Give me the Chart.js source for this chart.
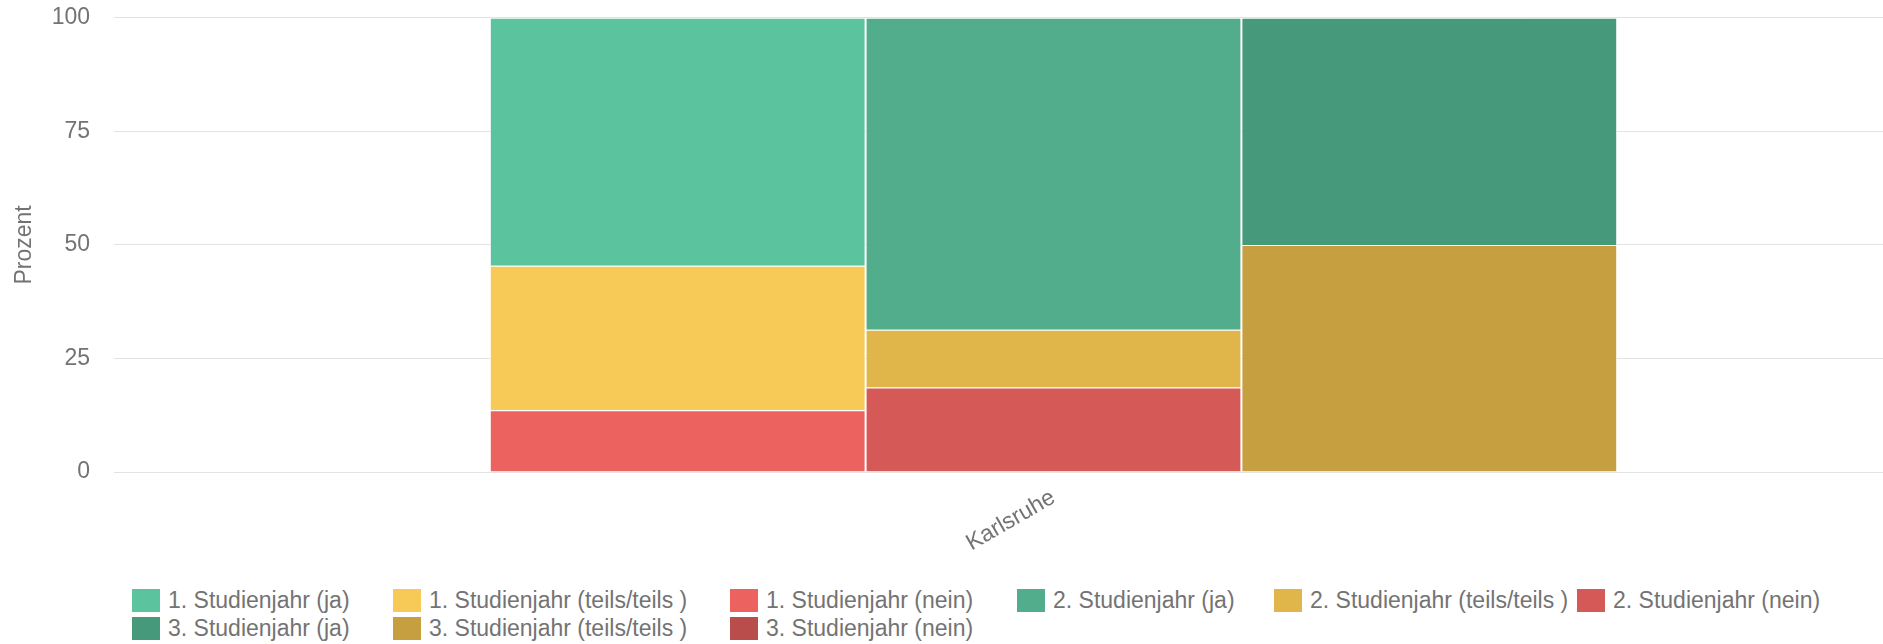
<!DOCTYPE html>
<html>
<head>
<meta charset="utf-8">
<script src="https://cdn.jsdelivr.net/npm/chart.js@4"></script>
<style>
html, body { margin: 0; padding: 0; background: #fff; overflow: hidden; width: 1883px; height: 644px; }
#wrap { position: absolute; left: 0; top: -20px; width: 2000px; height: 581px; }
#legend {
    position: absolute; left: 132px; top: 586px;
    display: grid;
    grid-template-columns: 261px 337px 287px 257px 303px 300px;
    grid-auto-rows: 28px;
    font: 23px "Liberation Sans", Arial, sans-serif;
    color: #737373;
}
.item { display: flex; align-items: center; white-space: nowrap; }
.box { width: 28px; height: 23px; margin-right: 8px; flex: none; }
</style>
</head>
<body>
<div id="wrap"><canvas id="chart" width="2000" height="581"></canvas></div>
<div id="legend"></div>
<script>
// Daten
var kategorien = ['Karlsruhe'];
var jahre = ['1. Studienjahr', '2. Studienjahr', '3. Studienjahr'];
var antworten = ['ja', 'teils/teils ', 'nein'];
var jaWerte = [54.6, 68.7, 50];
var teilsWerte = [31.8, 12.7, 50];
var neinWerte = [13.6, 18.6, 0];
var yTicks = [0, 25, 50, 75, 100];

// Farben je Jahr
var jaFarben = ['#5bc39e', '#52ad8c', '#46997b'];
var teilsFarben = ['#f7c956', '#e0b54a', '#c69f41'];
var neinFarben = ['#ec625f', '#d55957', '#b84d4b'];

var fontFamily = '"Liberation Sans", Arial, sans-serif';
var grau = '#737373';

var datasets = [];
var legendItems = [];
for (var i = 0; i < jahre.length; i++) {
    var werte = [jaWerte[i], teilsWerte[i], neinWerte[i]];
    var farben = [jaFarben[i], teilsFarben[i], neinFarben[i]];
    // nein unten, ja oben -> umgekehrt einfügen
    for (var k = antworten.length - 1; k >= 0; k--) {
        datasets.push({
            label: jahre[i] + ' (' + antworten[k] + ')',
            data: [werte[k]],
            backgroundColor: farben[k],
            borderColor: '#ffffff',
            borderWidth: 1,
            stack: 'jahr' + i
        });
    }
}
// Legende: Reihenfolge wie im Original
for (var i = 0; i < jahre.length; i++) {
    legendItems.push({ text: jahre[i] + ' (' + antworten[0] + ')', color: jaFarben[i] });
    legendItems.push({ text: jahre[i] + ' (' + antworten[1] + ')', color: teilsFarben[i] });
    legendItems.push({ text: jahre[i] + ' (' + antworten[2] + ')', color: neinFarben[i] });
}

var myChart = new Chart(document.getElementById('chart'), {
    type: 'bar',
    data: {
        labels: kategorien,
        datasets: datasets
    },
    options: {
        responsive: false,
        animation: false,
        layout: { padding: { left: 0, right: 7, top: 0, bottom: 0 } },
        datasets: { bar: { categoryPercentage: 0.6, barPercentage: 1 } },
        plugins: {
            legend: { display: false },
            tooltip: { enabled: false }
        },
        scales: {
            x: {
                stacked: true,
                grid: { display: false, drawTicks: false },
                border: { display: false },
                ticks: {
                    minRotation: 30, maxRotation: 30, padding: 12,
                    color: grau, font: { family: fontFamily, size: 23 }
                },
                afterFit: function(scale) { scale.height = 89; }
            },
            y: {
                stacked: true,
                min: yTicks[0], max: yTicks[yTicks.length - 1],
                afterBuildTicks: function(scale) {
                    scale.ticks = yTicks.map(function(v) { return { value: v }; });
                },
                ticks: { padding: 24, color: grau, font: { family: fontFamily, size: 23 } },
                grid: { color: '#e3e3e3', drawTicks: false },
                border: { display: false },
                title: {
                    display: true, text: 'Prozent', color: grau,
                    font: { family: fontFamily, size: 23 },
                    padding: { top: 11, bottom: 0 }
                },
                afterFit: function(scale) { scale.width = 114; }
            }
        }
    }
});

// HTML-Legende
var legendEl = document.getElementById('legend');
legendItems.forEach(function(item) {
    var d = document.createElement('div');
    d.className = 'item';
    var b = document.createElement('span');
    b.className = 'box';
    b.style.background = item.color;
    var t = document.createElement('span');
    t.textContent = item.text;
    d.appendChild(b);
    d.appendChild(t);
    legendEl.appendChild(d);
});
</script>
</body>
</html>
